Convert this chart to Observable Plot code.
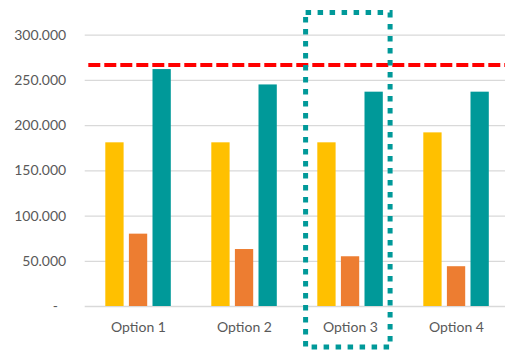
<!DOCTYPE html>
<html>
<head>
<meta charset="utf-8">
<script src="https://cdn.jsdelivr.net/npm/d3@7"></script>
<script src="https://cdn.jsdelivr.net/npm/@observablehq/plot@0.6"></script>
<style>
  html, body { margin: 0; padding: 0; background: #ffffff; }
  #chart svg { display: block; }
</style>
</head>
<body>
<div id="chart"></div>
<script>
// Categories and series
const options = ["Option 1", "Option 2", "Option 3", "Option 4"];
const seriesNames = ["Series 1", "Series 2", "Series 3"];
const series1 = [181000, 181000, 181000, 192000];
const series2 = [80000, 63000, 55000, 44000];
const series3 = [262000, 245000, 237000, 237000];
const seriesColors = ["#FFC000", "#ED7D31", "#009999"];

// Reference level and highlighted category
const target = 267000;
const highlighted = "Option 3";

// Y tick values
const yTicks = [0, 50000, 100000, 150000, 200000, 250000, 300000];

const seriesValues = [series1, series2, series3];
const rows = seriesNames.flatMap((s, i) =>
  options.map((o, j) => ({ option: o, series: s, value: seriesValues[i][j] }))
);

// Thousands separated by a dot; zero shown as a dash
const locale = d3.formatLocale({ decimal: ",", thousands: ".", grouping: [3], currency: ["", ""] });
const fmt = locale.format(",d");
const tickFormat = d => d === 0 ? "-\u2007" : fmt(d);

// Grouped bars: each series gets its own slot inside the category band
const band = 106, barW = 18.3, firstOffset = 20.3, step = 23.6;
const barMarks = seriesNames.map((s, i) => {
  const left = firstOffset + i * step;
  return Plot.barY(rows.filter(d => d.series === s), {
    x: "option",
    y: "value",
    fill: seriesColors[i],
    insetLeft: left,
    insetRight: band - left - barW
  });
});

const chart = Plot.plot({
  width: 505,
  height: 353,
  marginTop: 34.7,
  marginBottom: 47,
  marginLeft: 84.7,
  marginRight: 0,
  style: { fontFamily: "Lato, sans-serif", fontSize: "14px", color: "#595959", background: "#ffffff" },
  x: { domain: options, range: [84.7, 84.7 + band * options.length], padding: 0, label: null },
  y: { domain: [0, 300000], label: null },
  marks: [
    Plot.gridY(yTicks, { stroke: "#D9D9D9", strokeOpacity: 1, strokeWidth: 1.3 }),
    ...barMarks,
    Plot.ruleY([target], { stroke: "#FF0000", strokeWidth: 4, strokeDasharray: "12,4", insetLeft: 3.6 }),
    Plot.axisY(yTicks, { tickSize: 0, tickPadding: 19, tickFormat, fontSize: 14, label: null }),
    Plot.axisX({ tickSize: 0, tickPadding: 16, fontSize: 14, label: null }),
    Plot.cell([highlighted], {
      x: d => d,
      fill: "none",
      stroke: "#009999",
      strokeWidth: 5,
      strokeDasharray: "5.5,6.5",
      insetLeft: 8.6,
      insetRight: 12.9,
      insetTop: -22.2,
      insetBottom: -41
    })
  ]
});

document.getElementById("chart").appendChild(chart);
</script>
</body>
</html>
